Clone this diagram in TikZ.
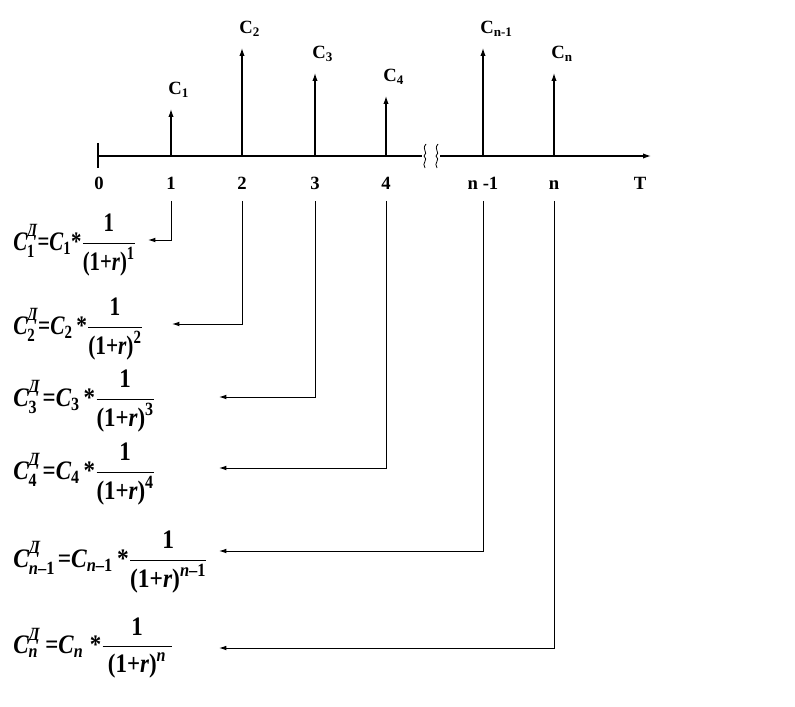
\documentclass[tikz,border=0pt]{standalone}
\usepackage{amsmath}
\usepackage{graphicx}
\usepackage{fontspec}
\setmainfont{Liberation Serif}
\usetikzlibrary{arrows.meta}
\newcommand{\vi}[1]{\text{\itshape #1}}
\newcommand{\ro}[1]{\text{#1}}
\newcommand{\pvf}[2][0.78]{\scalebox{#1}[1]{$#2$}}
\tikzset{
  cflow/.style={font=\fontsize{14}{16}\selectfont\bfseries, inner sep=0pt, anchor=base west},
  tlabel/.style={font=\fontsize{14}{16}\selectfont\bfseries, inner sep=0pt, anchor=base},
  pv/.style={font=\fontsize{20}{24}\selectfont\bfseries, inner sep=0pt, anchor=west},
  axis/.style={line width=0.9pt},
  up/.style={-{Latex[length=6pt,width=4pt]}, line width=0.9pt},
  link/.style={-{Latex[length=5.5pt,width=3.5pt]}, line width=0.75pt, shorten <=8pt},
}

\begin{document}
\begin{tikzpicture}[x=0.75pt, y=-0.75pt]
\useasboundingbox (0,0) rectangle (795,706);

% time axis with a break
\coordinate (o) at (98,156);
\coordinate (brk1) at (422,156);
\coordinate (brk2) at (440,156);
\coordinate (tend) at (651,156);
\draw[axis] (98,143) -- (98,168);
\draw[axis] (o) -- (brk1);
\draw[axis, -{Latex[length=6pt,width=4pt]}] (brk2) -- (tend);
\draw[line width=0.6pt] (426,144) .. controls (421,150) and (429,152) .. (424,156) .. controls (429,160) and (421,163) .. (425,168);
\draw[line width=0.6pt] (438,144) .. controls (433,150) and (441,152) .. (436,156) .. controls (441,160) and (433,163) .. (437,168);

% points of the axis
\coordinate (t1) at (171,156);
\coordinate (t2) at (242,156);
\coordinate (t3) at (315,156);
\coordinate (t4) at (386,156);
\coordinate (tn1) at (483,156);
\coordinate (tn) at (554,156);

% cash flows
\coordinate (a1) at (171,109);
\coordinate (a2) at (242,48);
\coordinate (a3) at (315,73);
\coordinate (a4) at (386,96);
\coordinate (an1) at (483,48);
\coordinate (an) at (554,73);
\draw[up] (t1) -- (a1);
\draw[up] (t2) -- (a2);
\draw[up] (t3) -- (a3);
\draw[up] (t4) -- (a4);
\draw[up] (tn1) -- (an1);
\draw[up] (tn) -- (an);
\node[cflow] (c1) at (168,95) {C\textsubscript{1}};
\node[cflow] (c2) at (239,34) {C\textsubscript{2}};
\node[cflow] (c3) at (312,59) {C\textsubscript{3}};
\node[cflow] (c4) at (383,82) {C\textsubscript{4}};
\node[cflow] (cn1) at (480,34) {C\textsubscript{n-1}};
\node[cflow] (cn) at (551,59) {C\textsubscript{n}};

% period labels
\node[tlabel] (l0) at (99,190) {0};
\node[tlabel] (l1) at (171,190) {1};
\node[tlabel] (l2) at (242,190) {2};
\node[tlabel] (l3) at (315,190) {3};
\node[tlabel] (l4) at (386,190) {4};
\node[tlabel] (ln1) at (483,190) {n -1};
\node[tlabel] (ln) at (554,190) {n};
\node[tlabel] (lT) at (640,190) {T};

% discounted values
\node[pv] (f1) at (13,245)
{\pvf{\vi{C}^{\vi{Д}}_{\ro{1}}\ro{=}\vi{C}_{\ro{1}}\ro{*}\dfrac{\ro{1}}{\ro{(1+}\vi{r}\ro{)}^{\ro{1}}}}};
\node[pv] (f2) at (13,329)
{\pvf[0.8]{\vi{C}^{\vi{Д}}_{\ro{2}}\ro{=}\vi{C}_{\ro{2}}\,\ro{*}\dfrac{\ro{1}}{\ro{(1+}\vi{r}\ro{)}^{\ro{2}}}}};
\node[pv] (f3) at (13,401)
{\pvf[0.86]{\vi{C}^{\vi{Д}}_{\ro{3}}\mkern2mu\ro{=}\vi{C}_{\ro{3}}\,\ro{*}\dfrac{\ro{1}}{\ro{(1+}\vi{r}\ro{)}^{\ro{3}}}}};
\node[pv] (f4) at (13,474)
{\pvf[0.86]{\vi{C}^{\vi{Д}}_{\ro{4}}\mkern2mu\ro{=}\vi{C}_{\ro{4}}\,\ro{*}\dfrac{\ro{1}}{\ro{(1+}\vi{r}\ro{)}^{\ro{4}}}}};
\node[pv] (fn1) at (13,562)
{\pvf[0.88]{\vi{C}^{\vi{Д}}_{\vi{n}\ro{–1}}\mkern2mu\ro{=}\vi{C}_{\vi{n}\ro{–1}}\,\ro{*}\dfrac{\ro{1}}{\ro{(1+}\vi{r}\ro{)}^{\vi{n}\ro{–1}}}}};
\node[pv] (fn) at (13,648)
{\pvf[0.86]{\vi{C}^{\vi{Д}}_{\vi{n}}\mkern4mu\ro{=}\vi{C}_{\vi{n}}\;\ro{*}\dfrac{\ro{1}}{\mkern4mu\ro{(1+}\vi{r}\ro{)}^{\vi{n}}\mkern4mu}}};

% links from periods to formulas
\coordinate (e1) at (148,240);
\coordinate (e2) at (172,324);
\coordinate (e3) at (219,397);
\coordinate (e4) at (219,468);
\coordinate (en1) at (219,551);
\coordinate (en) at (219,648);
\draw[link] (l1.south) |- (e1);
\draw[link] (l2.south) |- (e2);
\draw[link] (l3.south) |- (e3);
\draw[link] (l4.south) |- (e4);
\draw[link] (ln1.south) |- (en1);
\draw[link] (ln.south) |- (en);

\end{tikzpicture}
\end{document}
